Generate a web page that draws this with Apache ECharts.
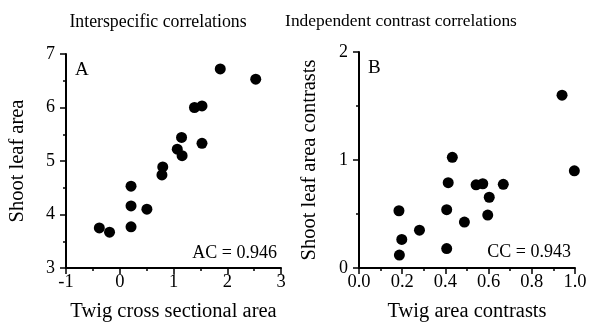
<!DOCTYPE html>
<html>
<head>
<meta charset="utf-8">
<script src="https://cdn.jsdelivr.net/npm/echarts@6/dist/echarts.min.js"></script>
<style>
  html, body { margin: 0; padding: 0; background: #fff; }
  #chart { width: 608px; height: 322px; }
</style>
</head>
<body>
<div id="chart"></div>
<script>
// panel A: interspecific correlations
var twigArea = [-0.38, -0.19, 0.21, 0.21, 0.21, 0.505, 0.785, 0.80, 1.07, 1.16, 1.15, 1.39, 1.53, 1.53, 1.87, 2.53];
var leafArea = [3.75, 3.67, 3.77, 4.16, 4.53, 4.10, 4.74, 4.89, 5.22, 5.10, 5.44, 6.00, 6.03, 5.33, 6.72, 6.53];

// panel B: independent contrasts
var twigContrast = [0.187, 0.198, 0.185, 0.28, 0.406, 0.406, 0.413, 0.432, 0.488, 0.542, 0.573, 0.596, 0.603, 0.668, 0.94, 0.997];
var leafContrast = [0.12, 0.265, 0.53, 0.35, 0.18, 0.54, 0.79, 1.025, 0.425, 0.77, 0.78, 0.49, 0.655, 0.775, 1.60, 0.90];

var panelTitles = ['Interspecific correlations', 'Independent contrast correlations'];
var corrLabels = ['AC = 0.946', 'CC = 0.943'];

function pairs(xs, ys) {
  var out = [];
  for (var i = 0; i < xs.length; i++) {
    out.push([xs[i], ys[i]]);
  }
  return out;
}

var font = 'Liberation Serif';
var black = '#000';

function axisBase(extra) {
  var base = {
    type: 'value',
    nameLocation: 'middle',
    nameTextStyle: { fontFamily: font, fontSize: 20.5, color: black },
    splitLine: { show: false },
    axisLine: { show: true, onZero: false, lineStyle: { color: black, width: 2 } },
    axisTick: { show: true, length: 6, lineStyle: { color: black, width: 1.5 } },
    minorTick: { show: true, splitNumber: 2, length: 3, lineStyle: { color: black, width: 1.5 } }
  };
  for (var k in extra) base[k] = extra[k];
  return base;
}

var myChart = echarts.init(document.getElementById('chart'));
var option = {
  backgroundColor: '#fff',
  animation: false,
  title: [{
    text: panelTitles[0],
    left: 153, top: 8, textAlign: 'center',
    textStyle: { fontFamily: font, fontSize: 17.8, fontWeight: 'normal', color: black }
  }, {
    text: panelTitles[1],
    left: 396, top: 8, textAlign: 'center',
    textStyle: { fontFamily: font, fontSize: 17.4, fontWeight: 'normal', color: black }
  }],
  // outerBoundsMode none: keep the plot box where it is in the figure
  grid: [
    { left: 66, top: 54, width: 215, height: 214, outerBoundsMode: 'none' },
    { left: 359, top: 52, width: 216, height: 216, outerBoundsMode: 'none' }
  ],
  xAxis: [
    axisBase({ gridIndex: 0, min: -1, max: 3, interval: 1, name: 'Twig cross sectional area', nameGap: 33,
      axisLabel: { fontFamily: font, fontSize: 18.5, color: black, margin: 5 } }),
    axisBase({ gridIndex: 1, min: 0, max: 1, interval: 0.2, name: 'Twig area contrasts', nameGap: 33,
      axisLabel: { fontFamily: font, fontSize: 18.5, color: black, margin: 5,
        formatter: function (v) { return v.toFixed(1); } } })
  ],
  yAxis: [
    axisBase({ gridIndex: 0, min: 3, max: 7, interval: 1, name: 'Shoot leaf area', nameGap: 38,
      axisLabel: { fontFamily: font, fontSize: 18, color: black, margin: 11 } }),
    axisBase({ gridIndex: 1, min: 0, max: 2, interval: 1, name: 'Shoot leaf area contrasts', nameGap: 39,
      axisLabel: { fontFamily: font, fontSize: 18, color: black, margin: 11 } })
  ],
  series: [{
    type: 'scatter',
    xAxisIndex: 0, yAxisIndex: 0,
    symbolSize: 11,
    itemStyle: { color: black, opacity: 1 },
    data: pairs(twigArea, leafArea)
  }, {
    type: 'scatter',
    xAxisIndex: 1, yAxisIndex: 1,
    symbolSize: 11,
    itemStyle: { color: black, opacity: 1 },
    data: pairs(twigContrast, leafContrast)
  }],
  graphic: [
    { type: 'text', left: 75, top: 61, style: { text: 'A', font: '19px "Liberation Serif"', fill: black } },
    { type: 'text', left: 368, top: 59, style: { text: 'B', font: '19px "Liberation Serif"', fill: black } },
    { type: 'text', right: 331, top: 244, style: { text: corrLabels[0], font: '18px "Liberation Serif"', fill: black } },
    { type: 'text', right: 37, top: 243, style: { text: corrLabels[1], font: '18px "Liberation Serif"', fill: black } }
  ]
};
myChart.setOption(option);
</script>
</body>
</html>
